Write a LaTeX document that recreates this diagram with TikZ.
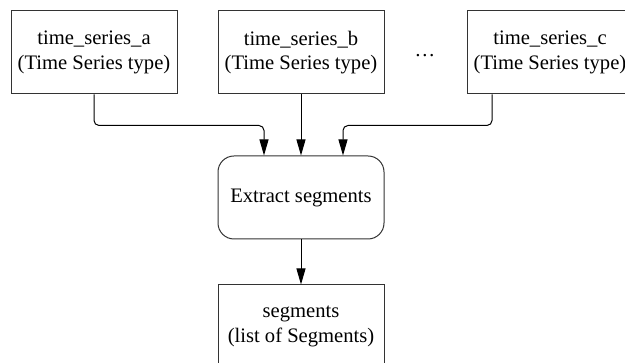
\documentclass[tikz,border=0pt]{standalone}
\usepackage{fontspec}
\setmainfont{Liberation Serif}
\usetikzlibrary{arrows.meta}

\tikzset{
	databox/.style={draw=black!80, line width=1pt, minimum width=166pt, minimum height=83pt, align=center, inner sep=0pt},
	stepbox/.style={databox, rounded corners=16pt},
	flow/.style={draw=black, line width=1pt, rounded corners=5pt, -{Triangle[length=16pt,width=9pt]}}
}

\begin{document}
\begin{tikzpicture}[x=1pt, y=1pt, font=\fontsize{20.6pt}{24.5pt}\selectfont]
			%%%%% START %%%%%
			\useasboundingbox (0, 0) rectangle (625, 363);
			
			\node[databox] (tsa) at (94, 310.5) {time\_series\_a\\(Time Series type)};
			\node[databox] (tsb) at (301, 310.5) {time\_series\_b\\(Time Series type)};
			\node[databox] (tsc) at (550, 310.5) {time\_series\_c\\(Time Series type)};
			\node[anchor=base] (more) at (425, 306) {…};
			
			\node[stepbox] (extract) at (301, 165.5) {Extract segments};
			\node[databox] (segs) at (301, 36.5) {segments\\(list of Segments)};
			
			\draw[flow] (tsa.south) -- ++(0, -31) -| ([xshift=-37pt]extract.north);
			\draw[flow] (tsb.south) -- (extract.north);
			\draw[flow] ([xshift=-58pt]tsc.south) -- ++(0, -31) -| ([xshift=42pt]extract.north);
			
			\draw[flow] (extract.south) -- (segs.north);
			%%%%% END %%%%%
\end{tikzpicture}
\end{document}
